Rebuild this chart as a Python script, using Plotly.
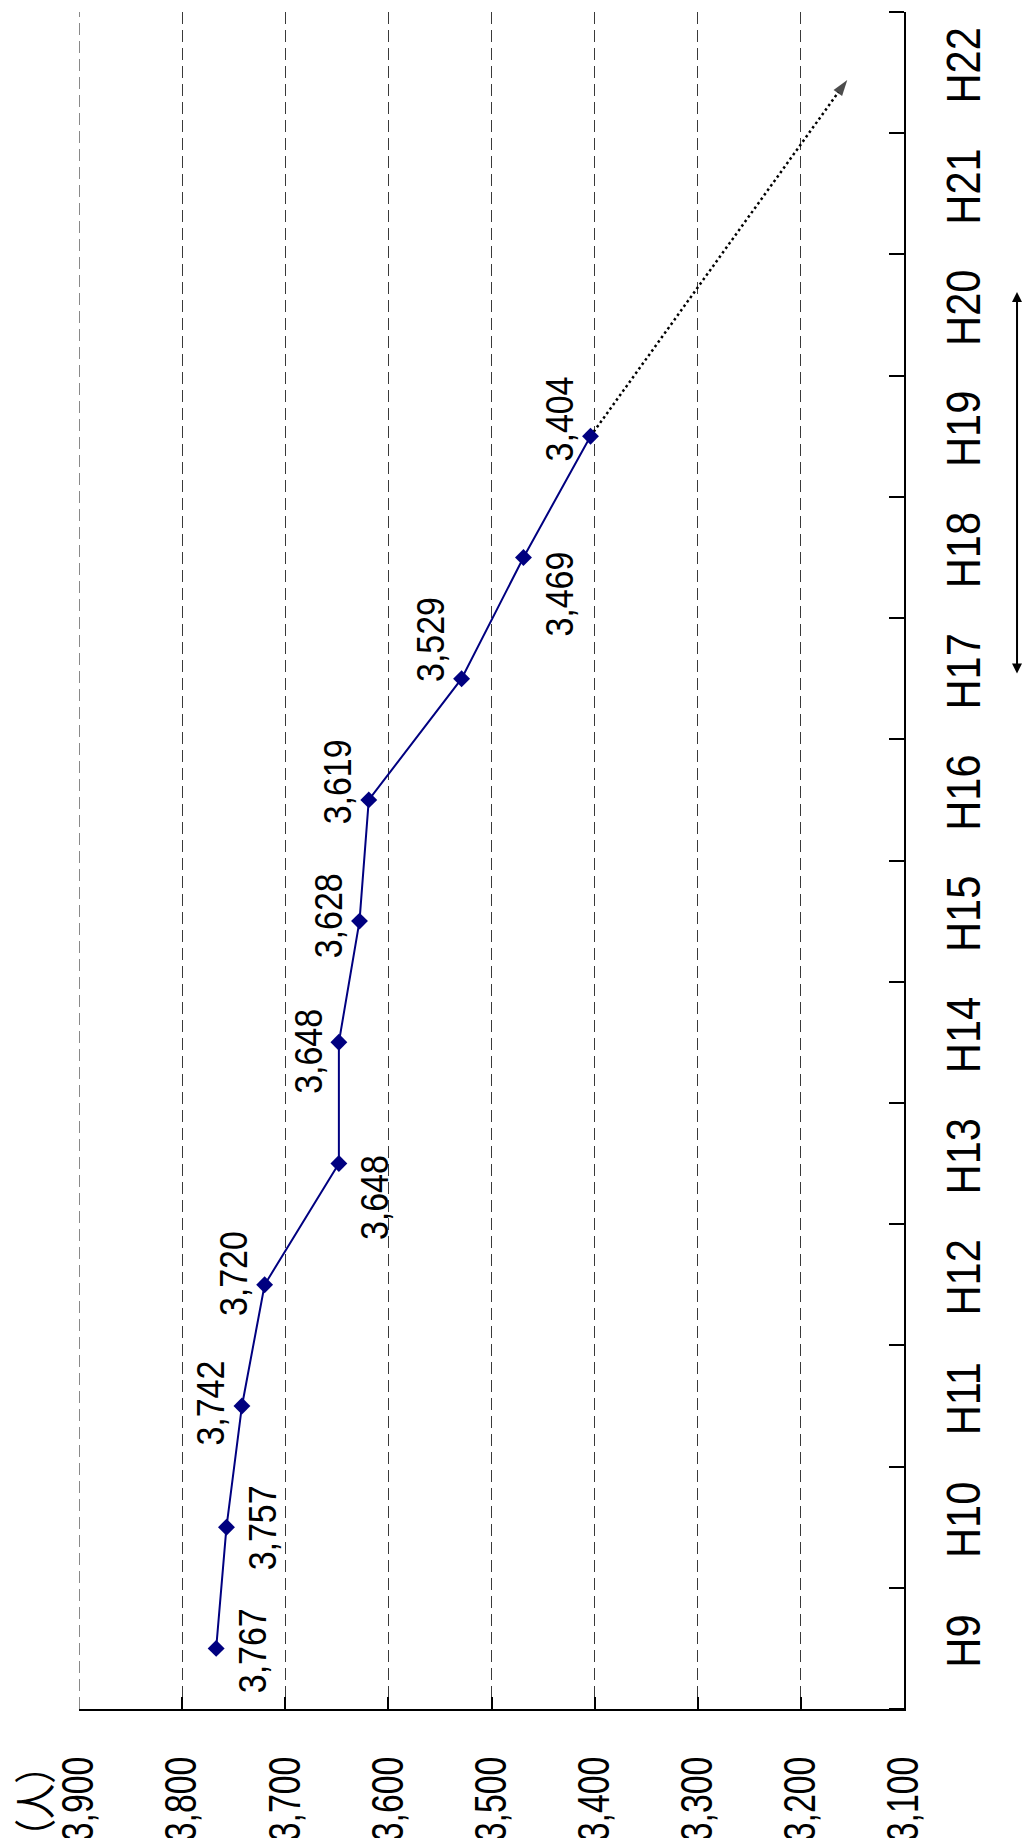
import plotly.graph_objects as go

# Fiscal years (Heisei) on the category axis
years = ["H9", "H10", "H11", "H12", "H13", "H14", "H15",
         "H16", "H17", "H18", "H19", "H20", "H21", "H22"]

# Population (persons) for H9 .. H19
population = [3767, 3757, 3742, 3720, 3648, 3648, 3628, 3619, 3529, 3469, 3404]

# Projected trend: from the H19 value toward H22
trend_values = [3404, 3155]
trend_positions = [10, 12.94]

# Value axis ticks
value_ticks = [3100, 3200, 3300, 3400, 3500, 3600, 3700, 3800, 3900]

unit_label = "（人）"

# Which side of each point its value label sits, and fine offsets (px)
label_side = ["right", "right", "left", "left", "right", "left",
              "left", "left", "left", "right", "left"]
label_dy = [2, 0, -3, -11, 34, 9, -5, -18, -39, 36, -17]

FONT = "Liberation Sans, Arial, sans-serif"
NAVY = "#000080"
GRID = "#3a3a3a"

W, H = 1024, 1838
L, R, T, B = 79, 120, 12, 129

positions = list(range(len(population)))

fig = go.Figure()

# Projection (dotted, with arrow head)
fig.add_trace(go.Scatter(
    x=trend_values, y=trend_positions, mode="lines+markers",
    line=dict(color="black", width=2.5, dash="2.5px,3px"),
    marker=dict(symbol=["circle", "arrow"], size=[0, 17], color="black",
                angleref="previous", line=dict(width=0)),
    hoverinfo="skip", showlegend=False,
))

# Population line
fig.add_trace(go.Scatter(
    x=population, y=positions, mode="lines+markers",
    line=dict(color=NAVY, width=2),
    marker=dict(symbol="diamond", size=13, color=NAVY),
    showlegend=False,
))

# Value labels
for i, v in enumerate(population):
    dx = 36 if label_side[i] == "right" else -31
    fig.add_annotation(
        x=v, y=i, xref="x", yref="y", text=f"{v:,}", showarrow=False,
        textangle=-90, xanchor="center", yanchor="middle",
        xshift=dx, yshift=-label_dy[i],
        font=dict(family=FONT, size=39, color="black"),
    )

# Period bracket on the right
fig.add_annotation(
    x=1.137, y=11.19, xref="paper", yref="y",
    ax=0, ay=8.03, axref="pixel", ayref="y",
    text="", showarrow=True, arrowside="end+start",
    arrowhead=2, arrowsize=1, arrowwidth=2, arrowcolor="black",
)

# Unit label
fig.add_annotation(
    x=-0.057, y=-0.032, xref="paper", yref="paper", text=unit_label,
    showarrow=False, textangle=-90, xanchor="center", yanchor="middle",
    yshift=-38,
    font=dict(family="Noto Sans CJK JP", size=42, color="black"),
)

# Dashed grid line along the left edge (3,900)
fig.add_shape(type="line", xref="x", yref="paper",
              x0=value_ticks[-1], x1=value_ticks[-1], y0=0, y1=1,
              line=dict(color="#151515", width=1, dash="12px,6px"), layer="below")

boundaries = [i - 0.5 for i in range(len(years) + 1)]

fig.update_layout(
    width=W, height=H,
    margin=dict(l=L, r=R, t=T, b=B),
    paper_bgcolor="white", plot_bgcolor="white",
    font=dict(family=FONT, color="black"),
    xaxis=dict(
        range=[3900, 3100], tickvals=value_ticks, tickformat=",d",
        tickangle=-90, tickfont=dict(family=FONT, size=44, color="black"),
        showline=True, linecolor="black", linewidth=2,
        ticks="inside", ticklen=12, tickwidth=2, tickcolor="black",
        ticklabelstandoff=28, automargin=False,
        showgrid=True, gridcolor=GRID, gridwidth=1, griddash="12px,6px",
        zeroline=False,
    ),
    yaxis=dict(
        range=[-0.5, 13.5], side="right",
        tickvals=list(range(len(years))), ticktext=years,
        tickangle=-90, tickfont=dict(family=FONT, size=49, color="black"),
        ticks="", ticklabelstandoff=15, automargin=False,
        minor=dict(tickvals=boundaries, ticks="inside", ticklen=15,
                   tickwidth=2, tickcolor="black", showgrid=False),
        showline=True, linecolor="black", linewidth=2,
        showgrid=False, zeroline=False,
    ),
)

# Narrow the rotated labels along their reading direction (condensed
# lettering). Each text is re-anchored at its start so the squeezed run
# keeps the same anchor point plotly gave it.
condense_js = """
var gd = document.getElementById('{plot_id}');
function condense(nodes, k) {
  nodes.forEach(function (t) {
    var n = t.getComputedTextLength();
    if (!(n > 0)) { return; }
    var m = n * k;
    var anchor = t.getAttribute('text-anchor') || t.style.textAnchor || 'start';
    var x = parseFloat(t.getAttribute('x') || '0');
    var x0 = x;
    if (anchor === 'end') { x0 = x - m; }
    else if (anchor === 'middle') { x0 = x - m / 2; }
    t.setAttribute('text-anchor', 'start');
    t.style.textAnchor = 'start';
    t.setAttribute('x', x0.toFixed(2));
    t.setAttribute('lengthAdjust', 'spacingAndGlyphs');
    t.setAttribute('textLength', m.toFixed(2));
  });
}
condense(gd.querySelectorAll('.xtick text'), 0.77);
condense(gd.querySelectorAll('.ytick text'), 0.85);
var ann = Array.prototype.slice.call(gd.querySelectorAll('text.annotation-text'));
condense(ann.filter(function (t) { return t.textContent.indexOf('人') < 0; }), 0.87);
condense(ann.filter(function (t) { return t.textContent.indexOf('人') >= 0; }), 0.84);
"""

fig.write_html("out.html", post_script=condense_js)
